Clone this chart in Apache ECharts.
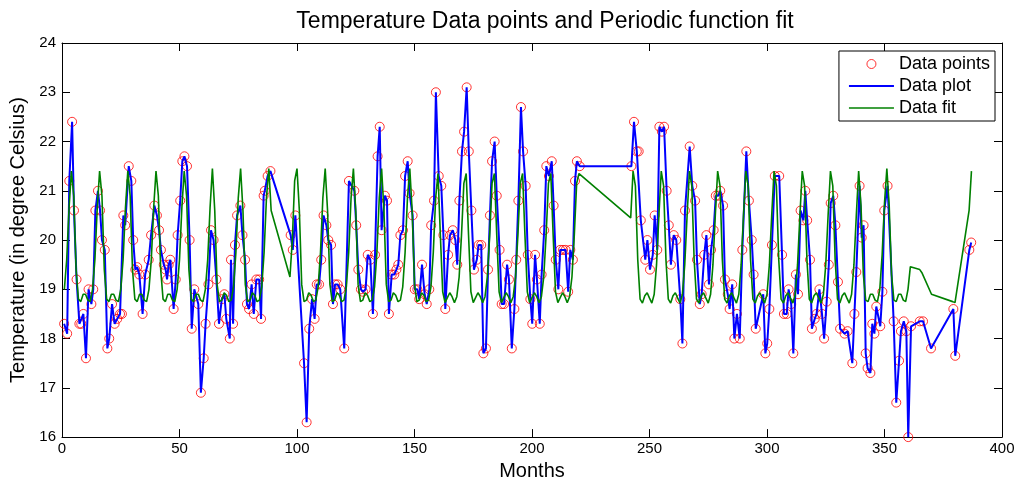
<!DOCTYPE html>
<html><head><meta charset="utf-8">
<script src="https://cdn.jsdelivr.net/npm/echarts@6/dist/echarts.min.js"></script>
<style>html,body{margin:0;padding:0;background:#fff}#c{width:1019px;height:486px}</style>
</head><body><div id="c"></div>
<script>
// Measured data (months, temperature in °C)
const months = [
0.9,2.2,3.1,4.3,5.1,6.2,7.4,8.2,9.1,10.2,
11.3,12.5,13.3,14.2,15.3,16.2,17.0,18.2,19.3,20.1,
21.3,22.4,23.5,24.7,25.5,26.1,26.9,28.4,29.5,30.3,
31.2,32.0,32.9,34.3,35.4,36.9,37.9,39.3,40.4,41.3,
42.1,43.3,44.1,44.7,45.4,46.1,47.5,48.4,49.2,50.3,
51.2,52.1,53.2,54.3,55.2,56.3,58.0,59.1,60.3,61.1,
62.3,63.4,64.5,65.7,66.8,68.0,69.1,69.9,71.4,71.9,
72.8,73.6,74.5,75.9,76.8,77.9,78.7,79.6,80.7,81.6,
82.7,83.9,84.7,85.8,86.3,87.5,88.7,97.3,98.2,99.3,
103.0,104.1,105.2,106.4,107.5,108.4,109.4,110.3,111.3,112.5,
113.3,114.5,115.3,116.2,117.3,118.4,120.1,122.1,124.4,125.2,
126.1,127.2,128.1,129.2,130.1,131.2,132.3,133.2,134.3,135.2,
136.0,137.4,138.3,139.1,140.3,141.4,142.3,143.1,144.0,145.1,
146.0,147.1,147.9,149.2,150.1,151.2,152.0,153.2,154.3,155.2,
156.3,157.1,158.3,159.1,160.3,161.4,162.3,163.1,164.3,165.1,
166.3,167.4,168.2,169.1,170.2,171.1,172.2,173.1,174.2,175.3,
176.5,177.3,178.4,179.3,180.4,181.3,182.1,183.0,184.1,185.0,
186.2,187.1,188.1,189.4,190.2,191.4,192.5,193.3,194.2,195.3,
196.2,197.3,198.2,199.3,200.1,201.3,202.1,203.3,204.1,205.2,
206.1,207.2,208.4,209.2,210.1,211.2,212.0,213.2,214.3,215.4,
216.3,217.4,218.3,219.1,220.3,242.3,243.4,244.6,245.4,246.3,
248.2,249.1,250.2,251.4,252.2,253.3,254.2,255.3,256.2,257.3,
258.2,259.1,260.3,261.4,263.1,264.0,265.1,267.1,268.2,269.4,
270.2,271.4,272.2,273.3,274.2,275.3,276.2,277.3,278.2,279.3,
280.1,281.3,282.1,283.3,284.1,285.2,286.1,287.2,288.4,289.5,
291.2,292.3,293.5,294.3,295.2,298.4,299.3,300.1,301.0,302.1,
303.3,305.2,306.4,307.2,308.4,309.2,310.3,311.2,312.3,313.2,
314.3,315.5,316.3,317.1,318.3,319.1,320.3,321.1,322.3,323.4,
324.3,325.4,326.3,327.1,328.2,329.1,330.2,331.1,333.0,334.3,
336.3,337.2,338.0,339.4,340.3,341.1,342.0,342.8,344.0,344.8,
345.7,346.5,348.2,349.1,349.9,351.3,353.9,355.0,356.2,357.0,
358.2,359.3,360.1,361.3,365.0,366.4,369.8,379.3,380.1,386.1,386.9
];
const temps = [
18.3,18.1,21.2,22.4,20.6,19.2,18.3,18.3,18.5,17.6,
19.0,18.7,19.0,20.6,21.0,20.6,20.0,19.8,17.8,18.0,
18.7,18.3,18.4,18.5,18.5,20.5,20.3,21.5,21.2,20.0,
19.4,19.45,19.3,18.5,19.3,19.6,20.1,20.7,20.5,20.2,
19.8,19.5,19.4,19.2,19.5,19.6,18.6,19.2,20.1,20.8,
21.6,21.7,21.5,20.0,18.2,19.0,18.7,16.9,17.6,18.3,
19.1,20.2,20.0,19.2,18.3,18.8,18.9,18.4,18.0,19.6,
18.3,19.9,20.5,20.7,20.1,19.6,18.7,18.6,19.1,18.5,
19.2,19.2,18.4,20.9,21.0,21.3,21.4,20.1,19.8,20.5,
17.5,16.3,18.2,18.8,18.4,19.1,19.1,19.6,20.5,20.3,
20.0,19.9,18.7,19.1,19.1,19.0,17.8,21.2,21.0,20.3,
19.4,19.0,18.95,19.0,19.7,19.6,18.5,19.7,21.7,22.3,
20.2,20.9,20.8,18.5,19.3,19.3,19.4,19.5,20.1,20.2,
21.3,21.6,20.95,20.5,19.0,19.0,18.8,19.5,18.9,18.7,
19.0,20.3,20.8,23.0,21.3,21.1,20.1,18.6,19.7,20.1,
20.2,20.0,19.5,20.8,21.8,22.2,23.1,21.8,20.6,19.4,
19.6,19.9,19.9,17.7,17.8,19.4,20.5,21.6,22.0,20.9,
19.8,18.7,18.7,19.5,19.2,17.8,18.6,19.6,20.8,22.7,
21.8,21.1,19.7,18.8,18.3,19.7,19.2,18.3,19.3,20.2,
21.5,21.3,21.6,20.7,19.6,19.0,19.8,19.8,19.8,18.95,
19.8,19.6,21.2,21.6,21.5,21.5,22.4,21.8,21.8,20.4,
19.6,20.0,19.4,19.7,20.5,19.8,22.3,22.2,22.3,21.0,
20.3,19.5,20.1,20.0,18.8,17.9,20.6,21.9,21.1,20.8,
19.6,18.7,18.9,19.7,20.1,19.1,19.8,20.2,20.9,20.9,
21.0,20.7,19.2,18.9,18.6,19.1,18.0,18.5,18.0,19.8,
21.8,20.8,20.0,19.3,18.2,18.9,17.7,17.9,18.6,19.9,
21.3,21.3,19.7,18.5,18.5,19.0,18.7,17.7,19.3,18.9,
20.6,20.4,21.0,20.4,19.6,18.2,18.4,18.5,19.0,18.5,
18.0,18.75,19.5,20.75,20.9,20.3,19.15,18.2,18.1,18.15,
17.5,18.5,19.35,21.1,20.05,20.3,17.7,17.4,17.3,18.3,
18.1,18.65,18.25,18.95,20.6,21.1,18.35,16.7,17.55,18.15,
18.35,18.15,16.0,18.25,18.35,18.35,17.8,18.6,17.65,19.8,19.95
];

// Periodic fit: consecutive months starting at the given month
const fitSeg1Start = 1;
const fitSeg1 = [
19.0,19.6,20.65,
21.4,20.9,19.4,18.8,18.75,18.9,18.9,18.78,18.75,19.0,19.6,20.65,
21.4,20.9,19.4,18.8,18.75,18.9,18.9,18.78,18.75,19.0,19.6,20.65,
21.4,20.9,19.4,18.8,18.75,18.9,18.9,18.78,18.75,19.0,19.6,20.65,
21.4,20.9,19.4,18.8,18.75,18.9,18.9,18.78,18.75,19.0,19.6,20.65,
21.4,20.9,19.4,18.8,18.75,18.9,18.9,18.78,18.75,19.0,19.6,20.65,
21.45,20.6,19.1,18.75,18.78,18.93,18.88,18.75,18.78,19.05,19.75,20.85,
21.45,20.6,19.1,18.75,18.78,18.93,18.88,18.75,18.78,19.05,19.75,20.85,
21.45,20.6
];
const fitSeg2Start = 97;
const fitSeg2 = [
19.25,20.0,21.2,
21.45,20.6,19.1,18.75,18.78,18.93,18.88,18.75,18.78,19.05,19.75,20.85,
21.45,20.6,19.1,18.75,18.78,18.93,18.88,18.75,18.78,19.05,19.75,20.85,
21.45,20.6,19.1,18.75,18.78,18.93,18.88,18.75,18.78,19.05,19.75,20.85,
21.45,20.6,19.1,18.75,18.78,18.93,18.88,18.75,18.78,19.05,19.75,20.85,
21.45,20.6,19.1,18.75,18.78,18.93,18.88,18.75,18.78,19.05,19.75,20.85,
21.35,20.1,18.95,18.73,18.83,18.93,18.85,18.73,18.85,19.25,20.1,21.15,
21.35,20.1,18.95,18.73,18.83,18.93,18.85,18.73,18.85,19.25,20.1,21.15,
21.35,20.1,18.95,18.73,18.83,18.93,18.85,18.73,18.85,19.25,20.1,21.15,
21.35,20.1,18.95,18.73,18.83,18.93,18.85,18.73,18.85,19.25,20.1,21.15,
21.35,20.1,18.95,18.73,18.83,18.93,18.85,18.73,18.85,19.25,20.1,21.15,
21.35
];
const fitSeg3Start = 242;
const fitSeg3 = [
20.45,21.4,
21.1,19.6,18.8,18.72,18.87,18.93,18.82,18.72,18.9,19.5,20.5,21.4,
21.1,19.6,18.8,18.72,18.87,18.93,18.82,18.72,18.9,19.5,20.5,21.4,
21.1,19.6,18.8,18.72,18.87,18.93,18.82,18.72,18.9,19.5,20.5,21.4,
21.1,19.6,18.8,18.72,18.87,18.93,18.82,18.72,18.9,19.5,20.5,21.4,
21.1,19.6,18.8,18.72,18.87,18.93,18.82,18.72,18.9,19.5,20.5,21.4,
21.1,19.6,18.8,18.72,18.87,18.93,18.82,18.72,18.9,19.5,20.5,21.4,
21.1,19.6,18.8,18.72,18.87,18.93,18.82,18.72,18.9,19.5,20.5,21.4,
21.1,19.6,18.8,18.72,18.87,18.93,18.82,18.72,18.9,19.5,20.5,21.4,
20.7,19.3,18.78,18.75,18.9,18.9,18.78,18.75,19.0,19.7,20.75,21.45,
20.7,19.3,18.78,18.75,18.9,18.9,18.78,18.75,19.0
];
const fitTailMonths = [361,365,366,370,379,380,386,387];
const fitTailTemps  = [19.46,19.4,19.33,18.9,18.75,18.73,20.6,21.4];

const xTicks = {min:0, max:400, interval:50};
const yTicks = {min:16, max:24, interval:1};

const FONT = '"Liberation Sans", Arial, Helvetica, sans-serif';
const pts = months.map((m,i)=>[m, temps[i]]);
const fit = [];
fitSeg1.forEach((v,i)=>fit.push([fitSeg1Start+i, v]));
fitSeg2.forEach((v,i)=>fit.push([fitSeg2Start+i, v]));
fitSeg3.forEach((v,i)=>fit.push([fitSeg3Start+i, v]));
fitTailMonths.forEach((m,i)=>fit.push([m, fitTailTemps[i]]));

const axLine = {show:true, onZero:false, lineStyle:{color:'#000', width:1}};
const axTick = {show:true, inside:true, length:8, lineStyle:{color:'#000', width:1}};

const chart = echarts.init(document.getElementById('c'));
chart.setOption({
  animation:false,
  backgroundColor:'#fff',
  title:{text:'Temperature Data points and Periodic function fit', left:540, top:5, textAlign:'center',
    textStyle:{fontFamily:FONT, fontSize:23, fontWeight:'normal', color:'#000'}},
  grid:{left:62, right:17, top:43, bottom:43, containLabel:false},
  legend:{orient:'vertical', right:24, top:51, backgroundColor:'#fff', borderColor:'#000', borderWidth:1,
    padding:[4,5,4,9], itemWidth:45, itemHeight:9, itemGap:4,
    textStyle:{fontFamily:FONT, fontSize:18, lineHeight:18, color:'#000'},
    data:[
      {name:'Data points', icon:'circle', itemStyle:{color:'rgba(0,0,0,0)', borderColor:'#ff0000', borderWidth:1}},
      {name:'Data plot', itemStyle:{opacity:0}, lineStyle:{color:'#0000ff', width:2}},
      {name:'Data fit', itemStyle:{opacity:0}, lineStyle:{color:'#008000', width:1.6}}
    ]},
  xAxis:[
    {type:'value', min:xTicks.min, max:xTicks.max, interval:xTicks.interval, position:'bottom',
     axisLine:axLine, axisTick:axTick, splitLine:{show:false},
     axisLabel:{color:'#000', fontFamily:FONT, fontSize:15, margin:4},
     name:'Months', nameLocation:'middle', nameGap:20,
     nameTextStyle:{fontFamily:FONT, fontSize:20, color:'#000'}},
    {type:'value', min:xTicks.min, max:xTicks.max, interval:xTicks.interval, position:'top',
     axisLine:axLine, axisTick:axTick, splitLine:{show:false}, axisLabel:{show:false}}
  ],
  yAxis:[
    {type:'value', min:yTicks.min, max:yTicks.max, interval:yTicks.interval, position:'left',
     axisLine:axLine, axisTick:axTick, splitLine:{show:false},
     axisLabel:{color:'#000', fontFamily:FONT, fontSize:15, margin:6},
     name:'Temperature (in degree Celsius)', nameLocation:'middle', nameGap:32,
     nameTextStyle:{fontFamily:FONT, fontSize:20, color:'#000'}},
    {type:'value', min:yTicks.min, max:yTicks.max, interval:yTicks.interval, position:'right',
     axisLine:axLine, axisTick:axTick, splitLine:{show:false}, axisLabel:{show:false}}
  ],
  series:[
    {name:'Data points', type:'scatter', data:pts, symbol:'circle', symbolSize:9, clip:false,
     itemStyle:{color:'rgba(0,0,0,0)', borderColor:'#ff0000', borderWidth:1}, z:2},
    {name:'Data plot', type:'line', data:pts, symbol:'none', clip:false,
     lineStyle:{color:'#0000ff', width:2}, itemStyle:{color:'#0000ff'}, z:3},
    {name:'Data fit', type:'line', data:fit, symbol:'none', clip:false,
     lineStyle:{color:'#008000', width:1.6}, itemStyle:{color:'#008000'}, z:4}
  ]
});
</script></body></html>
